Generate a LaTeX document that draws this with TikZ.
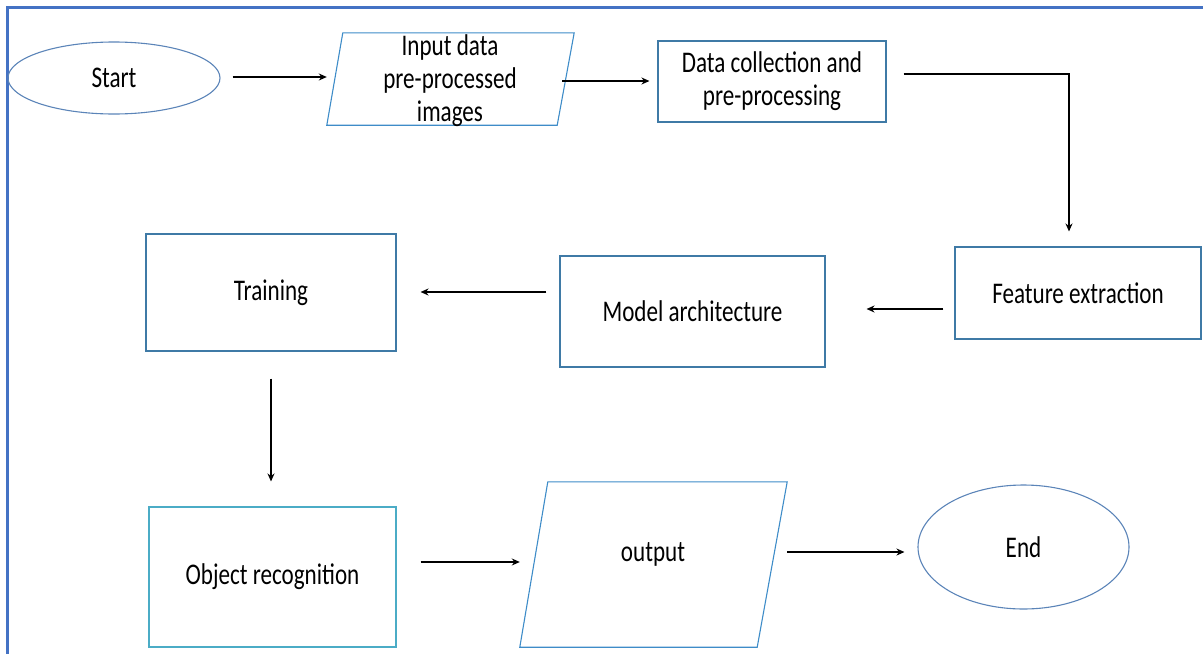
\documentclass[tikz,border=0pt]{standalone}
\usepackage{fontspec}
\setmainfont{Carlito}[FakeStretch=0.77]
\usetikzlibrary{shapes.geometric,arrows.meta}
\definecolor{frameblue}{HTML}{4472C4}
\definecolor{boxblue}{HTML}{3F7AA6}
\definecolor{cyanbox}{HTML}{4BACC6}
\definecolor{ellblue}{HTML}{5B84B8}
\definecolor{parblue}{HTML}{3E8CC8}
\begin{document}
\begin{tikzpicture}[x=1pt,y=-1pt,
  every node/.style={font=\fontsize{30}{33}\selectfont, inner sep=0pt, text=black},
  term/.style={ellipse, draw=ellblue, line width=1.1pt},
  proc/.style={rectangle, draw=boxblue, line width=1.1pt, align=center},
  parabox/.style={rectangle, draw=none},
  paraline/.style={draw=parblue, line width=1.1pt},
  lbl/.style={align=center},
  arr/.style={draw=black, line width=1.3pt, -{Stealth[length=8pt,width=7pt]}}]
\useasboundingbox (0,0) rectangle (1203,654);
\draw[frameblue, line width=3pt] (1203,7) -- (7,7) -- (7,654);

\node[term, minimum width=212, minimum height=72] (start) at (114,78) {Start};
\node[parabox, minimum width=247, minimum height=92] (input) at (450.5,79) {};
\draw[paraline] ([xshift=16pt]input.north west) -- (input.north east)
  -- ([xshift=-17pt]input.south east) -- (input.south west) -- cycle;
\node[lbl] (inputtxt) at (450,81) {Input data\\pre-processed\\images};
\node[proc, minimum width=228, minimum height=81] (data) at (772,81.5) {Data collection and\\pre-processing};
\node[proc, minimum width=246, minimum height=92] (feature) at (1078,293) {Feature extraction};
\node[proc, minimum width=265, minimum height=111] (model) at (692.5,311.5) {Model architecture};
\node[proc, minimum width=250, minimum height=117] (training) at (271,292.5) {Training};
\node[proc, draw=cyanbox, minimum width=247, minimum height=140] (object) at (272.5,577) {Object recognition};
\node[parabox, minimum width=267, minimum height=165] (output) at (653.5,564.5) {};
\draw[paraline] ([xshift=28pt]output.north west) -- (output.north east)
  -- ([xshift=-30pt]output.south east) -- (output.south west) -- cycle;
\node[lbl] (outputtxt) at (653,554) {output};
\node[term, minimum width=211, minimum height=124] (end) at (1023.5,547) {End};

\draw[arr] ([shift={(12,-1)}]start.east) -- ([shift={(0,-2)}]input.west);
\draw[arr] ([shift={(-12,2)}]input.east) -- ([shift={(-8,-0.5)}]data.west);
\draw[arr] ([shift={(17,-7.5)}]data.east) -| ([shift={(-9,-15)}]feature.north);
\draw[arr] ([shift={(-11,16)}]feature.west) -- ([shift={(41,-2.5)}]model.east);
\draw[arr] ([shift={(-13,-19.5)}]model.west) -- ([shift={(24,-0.5)}]training.east);
\draw[arr] ([shift={(0,27)}]training.south) -- ([shift={(-1.5,-25)}]object.north);
\draw[arr] ([shift={(24,-15)}]object.east) -- ([shift={(0,-2.5)}]output.west);
\draw[arr] ([shift={(0,-12.5)}]output.east) -- ([shift={(-13,5)}]end.west);
\end{tikzpicture}
\end{document}
